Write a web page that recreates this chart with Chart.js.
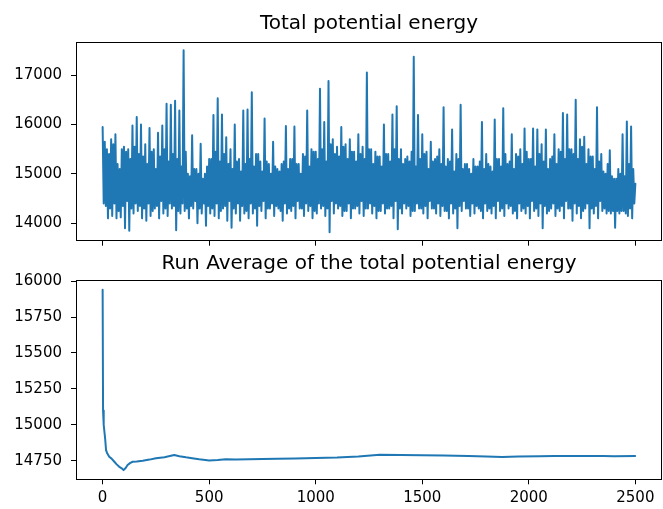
<!DOCTYPE html>
<html>
<head>
<meta charset="utf-8">
<script src="https://cdn.jsdelivr.net/npm/chart.js@4/dist/chart.umd.min.js"></script>
<style>
  body { margin: 0; background: #fff; }
  #wrap { position: relative; width: 663px; height: 509px; }
  canvas { position: absolute; left: 0; }
  #topChart { top: 0; }
  #runChart { top: 250px; }
</style>
</head>
<body>
<div id="wrap">
  <canvas id="topChart" width="663" height="250"></canvas>
  <canvas id="runChart" width="663" height="259"></canvas>
</div>
<script>
// total potential energy, read off the plot as upper and lower edge of the trace
// upper edge every 10 steps (0, 10, ... 2500)
const energyHigh = [
  15950, 15650, 15500, 15400, 15700, 15600, 15800, 15200, 15100, 15500,
  15550, 15450, 15500, 15300, 15980, 15550, 16150, 15400, 16000, 15350,
  15600, 15200, 15930, 15450, 15500, 15100, 15830, 15350, 15980, 15500,
  16420, 15250, 16400, 15400, 16480, 15300, 16280, 15150, 17500, 15450,
  15000, 14950, 15780, 15100, 15100, 15000, 15610, 14900, 15000, 15150,
  15300, 15300, 16190, 15450, 16530, 15250, 16200, 15400, 15740, 15200,
  15500, 15100, 16000, 15250, 15300, 15050, 16280, 15200, 16300, 15300,
  16650, 15150, 15400, 15400, 15250, 15050, 16120, 15250, 15200, 15000,
  15650, 15150, 15100, 15050, 15200, 15250, 15970, 15100, 15300, 15300,
  15960, 15200, 15200, 15000, 15400, 15350, 16280, 15150, 15500, 15450,
  15450, 15300, 16720, 15500, 16050, 15250, 16880, 15600, 15700, 15400,
  15550, 15350, 15950, 15550, 15600, 15300, 15700, 15450, 15450, 15250,
  15800, 15400, 15550, 15300, 17050, 15500, 15500, 15200, 15450, 15350,
  15350, 15150, 16000, 15400, 15400, 15250, 16200, 15500, 16370, 15300,
  15500, 15200, 15300, 15350, 15250, 15450, 17370, 15150, 16190, 15300,
  15800, 15400, 15450, 15100, 15650, 15250, 15300, 15350, 15500, 15200,
  16350, 15150, 15300, 15250, 15900, 15050, 15400, 15300, 16400, 15100,
  15200, 15200, 15100, 15000, 15300, 15150, 15150, 15250, 16050, 15100,
  15400, 15200, 15150, 15050, 16100, 15300, 15300, 15150, 16330, 15400,
  15200, 15250, 15800, 15100, 15400, 15350, 15500, 15200, 15920, 15450,
  15300, 15300, 15920, 15150, 15900, 15400, 15600, 15250, 15900, 15100,
  15300, 15350, 15800, 15200, 15500, 15450, 16230, 15300, 16200, 15500,
  15500, 15400, 16500, 15300, 15700, 15550, 15750, 15200, 15500, 15350,
  15350, 15100, 16350, 15250, 15400, 15050, 15000, 15200, 15480, 14950,
  14900, 14900, 15100, 15000, 15800, 14950, 16060, 15200, 15960, 15100,
  14800
];
// lower edge every 10 steps (5, 15, ... 2495)
const energyLow = [
  14400, 14350, 14100, 14300, 14150, 14400, 14100, 14250, 14120, 14350,
  13900, 14450, 13850, 14300, 14200, 14400, 14250, 14350, 14100, 14300,
  14050, 14400, 14150, 14250, 14300, 14350, 14100, 14450, 14200, 14300,
  14150, 14400, 14300, 14350, 13860, 14250, 14200, 14400, 14250, 14300,
  14100, 14350, 14300, 14450, 14000, 14300, 14200, 14400, 13950, 14350,
  14200, 14300, 14150, 14400, 14100, 14250, 14300, 14350, 14050, 14450,
  13910, 14300, 14200, 14400, 14050, 14350, 14200, 14250, 14100, 14400,
  14200, 14300, 13950, 14350, 14250, 14450, 14100, 14300, 14300, 14400,
  14150, 14350, 14300, 14250, 14050, 14400, 14200, 14300, 14250, 14350,
  14100, 14450, 14300, 14300, 14150, 14400, 14250, 14350, 14100, 14250,
  14200, 14400, 14300, 14350, 14150, 14300, 13820, 14450, 14200, 14400,
  14300, 14350, 14150, 14250, 14250, 14400, 14100, 14300, 14300, 14350,
  14200, 14450, 14150, 14300, 14300, 14400, 14200, 14350, 14100, 14250,
  14250, 14400, 14200, 14300, 14300, 14350, 14100, 14450, 13880, 14300,
  14200, 14400, 14300, 14350, 14150, 14250, 14250, 14400, 14300, 14300,
  14200, 14350, 14100, 14450, 14300, 14300, 14200, 14400, 14150, 14350,
  14250, 14250, 14100, 14400, 14200, 14300, 13900, 14350, 14250, 14450,
  14300, 14300, 14150, 14400, 14200, 14350, 14300, 14250, 14100, 14400,
  14250, 14300, 14200, 14350, 14100, 14450, 14250, 14300, 14150, 14400,
  14300, 14350, 14200, 14250, 14100, 14400, 14250, 14300, 14200, 14350,
  14100, 14450, 14250, 14300, 14150, 14400, 13900, 14350, 14200, 14250,
  14300, 14400, 14150, 14300, 14250, 14350, 14100, 14450, 14300, 14300,
  14050, 14400, 14200, 14350, 14100, 14250, 14300, 14400, 13900, 14300,
  14200, 14350, 14100, 14450, 14250, 14300, 14200, 14250, 14200, 14250,
  13910, 14250, 14200, 14250, 14250, 14200, 14150, 14300, 14100, 14400
];
const stepEvery = 10;

// running average of the energy
const runSteps = [
  0, 2, 4, 6, 9, 12, 16, 22, 31, 42,
  55, 66, 78, 90, 98, 108, 117, 130, 141, 160,
  188, 220, 250, 290, 336, 360, 391, 420, 453, 500,
  540, 578, 626, 688, 750, 820, 903, 1000, 1100, 1200,
  1300, 1400, 1498, 1600, 1716, 1800, 1875, 1950, 2050, 2120,
  2250, 2350, 2400, 2499
];
const runAverage = [
  15940, 15100, 15050, 15000, 14943, 14900, 14824, 14800, 14778, 14765,
  14743, 14725, 14708, 14697, 14685, 14700, 14720, 14735, 14743, 14745,
  14750, 14758, 14767, 14775, 14790, 14782, 14774, 14768, 14760, 14752,
  14755, 14760, 14759, 14760, 14762, 14764, 14766, 14770, 14772, 14780,
  14792, 14790, 14788, 14786, 14783, 14780, 14777, 14780, 14782, 14783,
  14783, 14783, 14782, 14783
];

const stepTicks = [0, 500, 1000, 1500, 2000, 2500];
const energyTicks = [14000, 15000, 16000, 17000];
const runTicks = [14750, 15000, 15250, 15500, 15750, 16000];

const blue = '#1f77b4';
Chart.defaults.font.family = 'DejaVu Sans';
Chart.defaults.font.size = 15;
Chart.defaults.color = '#000';

// matplotlib style box round the plot area
const frame = {
  id: 'frame',
  afterDraw(chart) {
    const { ctx, chartArea: a } = chart;
    const l = Math.floor(a.left) + 0.5, t = Math.floor(a.top) + 0.5;
    const r = Math.floor(a.right) - 0.5, b = Math.floor(a.bottom) + 0.5;
    ctx.save();
    ctx.strokeStyle = '#000';
    ctx.lineWidth = 1;
    ctx.strokeRect(l, t, r - l, b - t);
    ctx.restore();
  }
};

function xAxis(showLabels, height) {
  return {
    type: 'linear',
    min: -125,
    max: 2625,
    afterBuildTicks: s => { s.ticks = stepTicks.map(v => ({ value: v })); },
    afterFit: s => { s.height = height; },
    grid: { drawOnChartArea: false, drawTicks: true, tickLength: 5, color: '#000' },
    border: { display: false },
    ticks: {
      display: showLabels, autoSkip: false, maxRotation: 0, padding: 5,
      color: '#000', font: { family: 'DejaVu Sans', size: 15 },
      callback: v => String(v)
    }
  };
}

function yAxis(min, max, values) {
  return {
    min: min,
    max: max,
    afterBuildTicks: s => { s.ticks = values.map(v => ({ value: v })); },
    afterFit: s => {
      s.width = 76;
      // labels may hang over the plot edges, like in matplotlib
      s.paddingTop = 0;
      s.paddingBottom = 0;
    },
    grid: { drawOnChartArea: false, drawTicks: true, tickLength: 5, color: '#000' },
    border: { display: false },
    ticks: {
      autoSkip: false, padding: 9,
      color: '#000', font: { family: 'DejaVu Sans', size: 15 },
      callback: v => String(v)
    }
  };
}

function makeChart(id, title, points, titlePad, xOpts, yOpts) {
  return new Chart(document.getElementById(id), {
    type: 'line',
    data: {
      datasets: [{
        data: points,
        borderColor: blue,
        borderWidth: 2,
        borderJoinStyle: 'round',
        borderCapStyle: 'round',
        pointRadius: 0,
        tension: 0,
        fill: false
      }]
    },
    options: {
      responsive: false,
      animation: false,
      devicePixelRatio: 1,
      layout: { autoPadding: false, padding: { left: 0, right: 1, top: 0, bottom: 0 } },
      plugins: {
        legend: { display: false },
        tooltip: { enabled: false },
        title: {
          display: true,
          text: title,
          fullSize: false,
          color: '#000',
          font: { family: 'DejaVu Sans', size: 20, weight: 'normal', lineHeight: 1.2 },
          padding: titlePad
        }
      },
      scales: { x: xOpts, y: yOpts }
    },
    plugins: [frame]
  });
}

const energyPoints = [];
energyHigh.forEach((v, i) => {
  energyPoints.push({ x: i * stepEvery, y: v });
  if (i < energyLow.length) energyPoints.push({ x: i * stepEvery + stepEvery / 2, y: energyLow[i] });
});
const runPoints = runAverage.map((v, i) => ({ x: runSteps[i], y: v }));

makeChart('topChart', 'Total potential energy', energyPoints,
  { top: 12, bottom: 6 }, xAxis(false, 9.3), yAxis(13648, 17668, energyTicks));

makeChart('runChart', 'Run Average of the total potential energy', runPoints,
  { top: 2, bottom: 4.5 }, xAxis(true, 29.7), yAxis(14621, 16004, runTicks));
</script>
</body>
</html>
